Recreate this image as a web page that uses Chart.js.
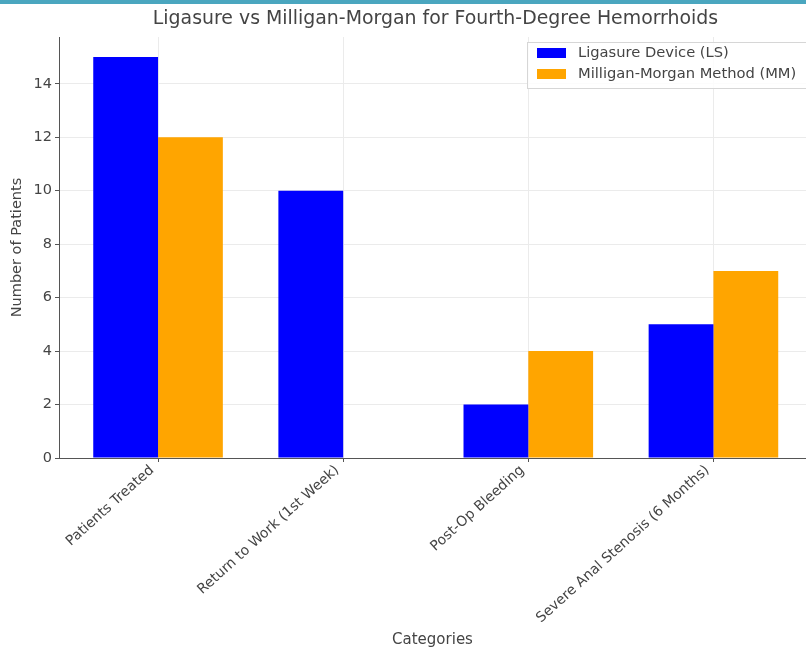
<!DOCTYPE html>
<html>
<head>
<meta charset="utf-8">
<script src="https://cdn.jsdelivr.net/npm/chart.js@4.4.1/dist/chart.umd.min.js"></script>
<style>
html,body{margin:0;padding:0;background:#fff;overflow:hidden}
#wrap{width:806px;height:649px;position:relative}
</style>
</head>
<body>
<div id="wrap"><canvas id="c" width="806" height="649"></canvas></div>
<script>
const categories = ["Patients Treated", "Return to Work (1st Week)", "Post-Op Bleeding", "Severe Anal Stenosis (6 Months)"];
const seriesNames = ["Ligasure Device (LS)", "Milligan-Morgan Method (MM)"];
const lsValues = [15, 10, 2, 5];
const mmValues = [12, 0, 4, 7];
const yTickValues = [0, 2, 4, 6, 8, 10, 12, 14];
const xTickValues = [0, 1, 2, 3];
const yMax = 15.75;
const xMin = -0.535;
const xMax = 3.5;
const chartTitle = 'Ligasure vs Milligan-Morgan for Fourth-Degree Hemorrhoids';

const FONT = "'DejaVu Sans', sans-serif";
const TXT = '#444';
const seriesColors = ['#0000ff', '#ffa500'];

const topBar = {
  id: 'topBar',
  beforeDraw(chart) {
    const ctx = chart.ctx;
    ctx.save();
    ctx.fillStyle = '#fff';
    ctx.fillRect(0, 0, chart.width, chart.height);
    ctx.fillStyle = '#4aa6bf';
    ctx.fillRect(0, 0, chart.width, 4);
    ctx.restore();
  }
};

const plotTitle = {
  id: 'plotTitle',
  afterDraw(chart) {
    const ctx = chart.ctx;
    const a = chart.chartArea;
    ctx.save();
    ctx.font = '18.9px ' + FONT;
    ctx.fillStyle = TXT;
    ctx.textAlign = 'center';
    ctx.textBaseline = 'middle';
    ctx.fillText(chartTitle, (a.left + a.left + 753) / 2, 19.5);
    ctx.restore();
  }
};

const legendBox = {
  id: 'legendBox',
  afterDraw(chart) {
    const ctx = chart.ctx;
    ctx.save();
    const x0 = 527.5, y0 = 42.5, w = 300, h = 46;
    ctx.fillStyle = 'rgba(255,255,255,0.85)';
    ctx.fillRect(x0, y0, w, h);
    ctx.strokeStyle = '#d6d6d6';
    ctx.lineWidth = 1;
    ctx.strokeRect(x0, y0, w, h);
    ctx.font = '14.7px ' + FONT;
    ctx.textBaseline = 'middle';
    ctx.textAlign = 'left';
    chart.data.datasets.forEach((ds, i) => {
      const cy = 53 + i * 21;
      ctx.fillStyle = ds.backgroundColor;
      ctx.fillRect(537, cy - 5, 29, 10);
      ctx.fillStyle = TXT;
      ctx.fillText(ds.label, 578, cy);
    });
    ctx.restore();
  }
};

new Chart(document.getElementById('c'), {
  type: 'bar',
  data: {
    datasets: [
      { label: seriesNames[0], data: categories.map((c, i) => ({ x: i, y: lsValues[i] })), backgroundColor: seriesColors[0], borderWidth: 0 },
      { label: seriesNames[1], data: categories.map((c, i) => ({ x: i, y: mmValues[i] })), backgroundColor: seriesColors[1], borderWidth: 0 }
    ]
  },
  options: {
    responsive: false,
    animation: false,
    devicePixelRatio: 1,
    categoryPercentage: 0.7,
    barPercentage: 1.0,
    layout: { padding: { top: 37, left: 0, right: 0, bottom: 0 } },
    plugins: {
      legend: { display: false },
      tooltip: { enabled: false },
      title: { display: false }
    },
    scales: {
      x: {
        type: 'linear',
        min: xMin,
        max: xMax,
        offset: false,
        afterBuildTicks: s => { s.ticks = xTickValues.map(v => ({ value: v })); },
        afterFit: s => { s.height = 191; },
        grid: { offset: false, color: '#ebebeb', tickColor: '#555', tickLength: 4, drawTicks: true },
        border: { color: '#555', width: 1 },
        ticks: {
          autoSkip: false,
          minRotation: 42,
          maxRotation: 42,
          padding: 0,
          labelOffset: -6,
          color: TXT,
          font: { family: FONT, size: 14 },
          callback: v => categories[v] !== undefined ? categories[v] : ''
        },
        title: {
          display: true,
          text: 'Categories',
          color: TXT,
          font: { family: FONT, size: 15 },
          padding: { top: 0, bottom: 0 }
        }
      },
      y: {
        min: 0,
        max: yMax,
        afterBuildTicks: s => { s.ticks = yTickValues.map(v => ({ value: v })); },
        afterFit: s => { s.width = 59; },
        grid: { color: '#ebebeb', tickColor: '#555', tickLength: 4 },
        border: { color: '#555', width: 1 },
        ticks: {
          padding: 3,
          color: TXT,
          font: { family: FONT, size: 14.5 }
        },
        title: {
          display: true,
          text: 'Number of Patients',
          color: TXT,
          font: { family: FONT, size: 14.5 },
          padding: { top: 9, bottom: 0 }
        }
      }
    }
  },
  plugins: [topBar, plotTitle, legendBox]
});
</script>
</body>
</html>
